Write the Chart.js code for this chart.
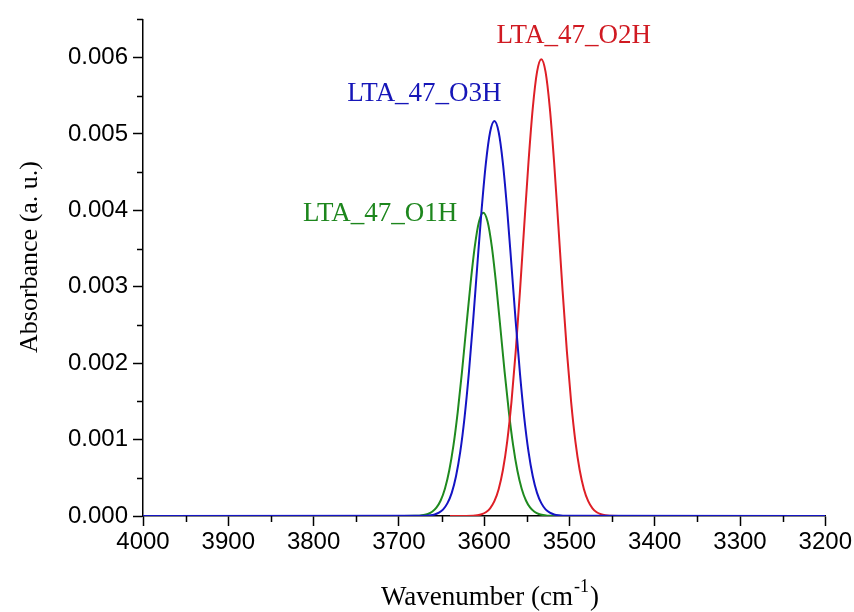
<!DOCTYPE html>
<html>
<head>
<meta charset="utf-8">
<script src="https://cdn.jsdelivr.net/npm/chart.js@4.4.1/dist/chart.umd.min.js"></script>
<style>
  html, body { margin: 0; padding: 0; background: #fff; }
  #c { display: block; }
</style>
</head>
<body>
<canvas id="c" width="854" height="612"></canvas>
<script>
// ---- Data ----
const seriesNames = ['LTA_47_O3H', 'LTA_47_O2H', 'LTA_47_O1H'];

const o3hWavenumber = [4000, 3668, 3663, 3658, 3653, 3648, 3643, 3638, 3633, 3628, 3623, 3618, 3613, 3608, 3603, 3598, 3593, 3588,
  3583, 3578, 3573, 3568, 3563, 3558, 3553, 3548, 3543, 3538, 3533, 3528, 3523, 3518, 3513, 3508, 3200];
const o3hAbsorbance = [0, 0.0000037, 0.0000088, 0.00002, 0.000043, 0.0000873, 0.000168, 0.000303, 0.000521, 0.000843, 0.001289, 0.001863, 0.002545, 0.003285, 0.004006, 0.004616, 0.005026, 0.00517,
  0.005026, 0.004616, 0.004006, 0.003285, 0.002545, 0.001863, 0.001289, 0.000843, 0.000521, 0.000303, 0.000168, 0.0000873, 0.000043, 0.00002, 0.0000088, 0.0000037, 0];

const o2hWavenumber = [3640, 3613, 3608, 3603, 3598, 3593, 3588, 3583, 3578, 3573, 3568, 3563, 3558, 3553, 3548, 3543, 3538, 3533,
  3528, 3523, 3518, 3513, 3508, 3503, 3498, 3493, 3488, 3483, 3478, 3473, 3468, 3463, 3458, 3453, 3420];
const o2hAbsorbance = [0, 0.0000042, 0.0000102, 0.0000231, 0.0000497, 0.000101, 0.000194, 0.000351, 0.000602, 0.000975, 0.001491, 0.002155, 0.002944, 0.0038, 0.004633, 0.005339, 0.005813, 0.00598,
  0.005813, 0.005339, 0.004633, 0.0038, 0.002944, 0.002155, 0.001491, 0.000975, 0.000602, 0.000351, 0.000194, 0.000101, 0.0000497, 0.0000231, 0.0000102, 0.0000042, 0];

const o1hWavenumber = [3700, 3681, 3676, 3671, 3666, 3661, 3656, 3651, 3646, 3641, 3636, 3631, 3626, 3621, 3616, 3611, 3606, 3601,
  3596, 3591, 3586, 3581, 3576, 3571, 3566, 3561, 3556, 3551, 3546, 3541, 3536, 3531, 3526, 3521, 3500];
const o1hAbsorbance = [0, 0.0000019, 0.0000049, 0.0000117, 0.000026, 0.0000548, 0.000109, 0.000203, 0.000357, 0.000592, 0.000924, 0.001361, 0.001887, 0.002467, 0.003037, 0.003525, 0.003854, 0.00397,
  0.003854, 0.003525, 0.003037, 0.002467, 0.001887, 0.001361, 0.000924, 0.000592, 0.000357, 0.000203, 0.000109, 0.0000548, 0.000026, 0.0000117, 0.0000049, 0.0000019, 0];

const xTicks = [4000, 3900, 3800, 3700, 3600, 3500, 3400, 3300, 3200];
const xMinorTicks = [3950, 3850, 3750, 3650, 3550, 3450, 3350, 3250];
const yTicks = [0, 0.001, 0.002, 0.003, 0.004, 0.005, 0.006];
const yTickLabels = ['0.000', '0.001', '0.002', '0.003', '0.004', '0.005', '0.006'];
const yMinorTicks = [0.0005, 0.0015, 0.0025, 0.0035, 0.0045, 0.0055, 0.0065];

// ---- Styles ----
const colors = { O3H: '#1414c4', O2H: '#de1f26', O1H: '#1f8a1f' };
const labelColors = { O3H: '#1616b8', O2H: '#d01a22', O1H: '#1d861d' };
// label anchors in data units (wavenumber, absorbance)
const peakLabels = [
  { text: seriesNames[1], x: 3495, y: 0.00629, color: labelColors.O2H },
  { text: seriesNames[0], x: 3670, y: 0.00553, color: labelColors.O3H },
  { text: seriesNames[2], x: 3722, y: 0.00396, color: labelColors.O1H }
];

function pts(xs, ys) { return xs.map((v, i) => ({ x: v, y: ys[i] })); }

const lineBase = { pointRadius: 0, borderWidth: 2, fill: false, cubicInterpolationMode: 'monotone', parsing: false };

const extras = {
  id: 'extras',
  afterDraw(chart) {
    const { ctx, chartArea: a, scales: { x, y } } = chart;
    ctx.save();
    ctx.strokeStyle = '#000';
    ctx.lineWidth = 1.5;
    ctx.beginPath();
    yMinorTicks.forEach(v => { const p = Math.round(y.getPixelForValue(v)) + 0.5; ctx.moveTo(a.left - 6, p); ctx.lineTo(a.left, p); });
    xMinorTicks.forEach(v => { const p = Math.round(x.getPixelForValue(v)) + 0.5; ctx.moveTo(p, a.bottom); ctx.lineTo(p, a.bottom + 6); });
    ctx.stroke();

    // peak labels
    ctx.font = '27px "Liberation Serif", "Times New Roman", serif';
    ctx.textAlign = 'center';
    ctx.textBaseline = 'middle';
    peakLabels.forEach(l => {
      ctx.fillStyle = l.color;
      ctx.fillText(l.text, x.getPixelForValue(l.x), y.getPixelForValue(l.y));
    });

    // y title
    ctx.fillStyle = '#000';
    ctx.save();
    ctx.translate(30, 257);
    ctx.rotate(-Math.PI / 2);
    ctx.font = '26px "Liberation Serif", "Times New Roman", serif';
    ctx.textAlign = 'center';
    ctx.textBaseline = 'middle';
    ctx.fillText('Absorbance (a. u.)', 0, 0);
    ctx.restore();

    // x title with superscript
    const big = '27px "Liberation Serif", "Times New Roman", serif';
    const small = '18px "Liberation Serif", "Times New Roman", serif';
    const p1 = 'Wavenumber (cm', sup = '-1', p2 = ')';
    ctx.font = big; const w1 = ctx.measureText(p1).width; const w3 = ctx.measureText(p2).width;
    ctx.font = small; const w2 = ctx.measureText(sup).width;
    const total = w1 + w2 + w3 + 2;
    let sx = 490 - total / 2;
    const base = 605;
    ctx.textAlign = 'left';
    ctx.textBaseline = 'alphabetic';
    ctx.font = big; ctx.fillText(p1, sx, base);
    ctx.font = small; ctx.fillText(sup, sx + w1 + 1, base - 13);
    ctx.font = big; ctx.fillText(p2, sx + w1 + w2 + 2, base);
    ctx.restore();
  }
};

const tickFont = { family: '"Liberation Sans", Arial, sans-serif', size: 24 };

new Chart(document.getElementById('c'), {
  type: 'line',
  data: {
    datasets: [
      { ...lineBase, label: seriesNames[0], data: pts(o3hWavenumber, o3hAbsorbance), borderColor: colors.O3H },
      { ...lineBase, label: seriesNames[1], data: pts(o2hWavenumber, o2hAbsorbance), borderColor: colors.O2H },
      { ...lineBase, label: seriesNames[2], data: pts(o1hWavenumber, o1hAbsorbance), borderColor: colors.O1H }
    ]
  },
  options: {
    responsive: false,
    animation: false,
    devicePixelRatio: 1,
    layout: { padding: { left: 0, right: 28, top: 13, bottom: 0 } },
    plugins: { legend: { display: false }, tooltip: { enabled: false } },
    scales: {
      x: {
        type: 'linear', reverse: true, min: 3200, max: 4000,
        afterBuildTicks: s => { s.ticks = xTicks.map(v => ({ value: v })); },
        ticks: { color: '#000', font: tickFont, padding: 2, maxRotation: 0, autoSkip: false, callback: v => String(v) },
        grid: { drawOnChartArea: false, drawTicks: true, tickLength: 10, tickColor: '#000', tickWidth: 1.5 },
        border: { display: true, color: '#000', width: 1.5 },
        afterFit: s => { s.height = 96; }
      },
      y: {
        type: 'linear', min: 0, max: 0.0065,
        afterBuildTicks: s => { s.ticks = yTicks.map(v => ({ value: v })); },
        ticks: { color: '#000', font: tickFont, padding: 5, autoSkip: false, callback: (v, i) => yTickLabels[i] },
        grid: { drawOnChartArea: false, drawTicks: true, tickLength: 10, tickColor: '#000', tickWidth: 1.5 },
        border: { display: true, color: '#000', width: 1.5 },
        afterFit: s => { s.width = 143; }
      }
    }
  },
  plugins: [extras]
});
</script>
</body>
</html>
